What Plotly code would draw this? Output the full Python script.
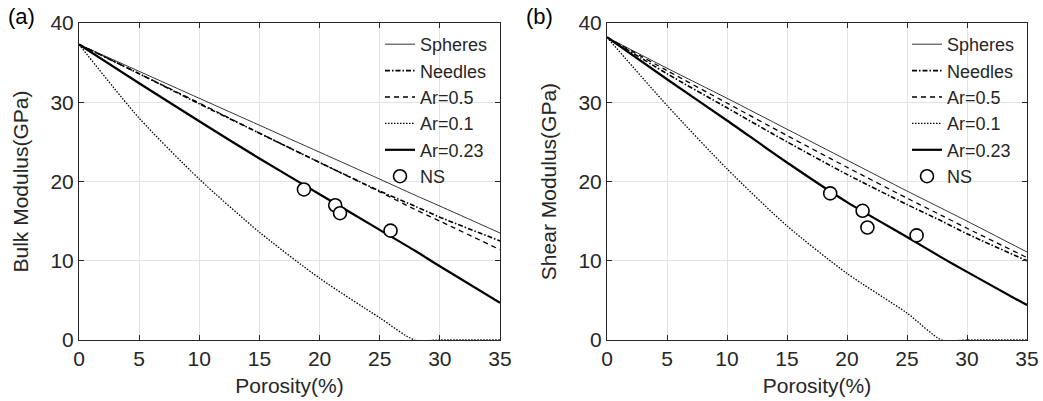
import plotly.graph_objects as go

# ---------------- data ----------------
porosity = [0, 5, 10, 15, 20, 25, 27.9, 30, 35]

# (a) Bulk modulus (GPa)
bulk_spheres = [37.3, 33.9, 30.5, 27.1, 23.7, 20.3, 18.3, 16.9, 13.5]
bulk_needles = [37.3, 33.6, 29.8, 26.1, 22.4, 18.8, 16.9, 15.5, 12.5]
bulk_ar05    = [37.3, 33.6, 29.9, 26.1, 22.4, 18.7, 16.5, 15.0, 11.4]
bulk_ar01    = [37.3, 28.0, 20.3, 13.6, 7.8, 2.8, 0.0, 0.0, 0.0]
bulk_ar023   = [37.3, 32.4, 27.6, 22.9, 18.4, 13.9, 11.3, 9.3, 4.7]
bulk_ns_phi  = [18.7, 21.3, 21.7, 25.9]
bulk_ns_val  = [19.0, 17.0, 16.0, 13.8]

# (b) Shear modulus (GPa)
shear_spheres = [38.2, 34.3, 30.5, 26.6, 22.7, 18.8, 16.6, 15.0, 11.1]
shear_needles = [38.2, 33.6, 29.3, 25.0, 20.9, 17.1, 15.0, 13.4, 10.0]
shear_ar05    = [38.2, 34.0, 29.9, 25.8, 21.8, 17.9, 15.7, 14.1, 10.4]
shear_ar01    = [38.2, 29.6, 21.6, 14.4, 8.4, 3.4, 0.0, 0.0, 0.0]
shear_ar023   = [38.2, 32.9, 27.7, 22.4, 17.4, 13.0, 10.4, 8.6, 4.4]
shear_ns_phi  = [18.6, 21.3, 21.7, 25.8]
shear_ns_val  = [18.5, 16.3, 14.2, 13.2]

x_ticks = [0, 5, 10, 15, 20, 25, 30, 35]
y_ticks = [0, 10, 20, 30, 40]

# ---------------- figure ----------------
FONT = "Liberation Sans, Arial, sans-serif"
INK = "#262626"
TS = 21
fig = go.Figure()

styles = [
    ("Spheres", dict(color="black", width=0.8, dash="solid")),
    ("Needles", dict(color="black", width=1.6, dash="5px,2px,1.5px,2px")),
    ("Ar=0.5", dict(color="black", width=1.3, dash="5px,4px")),
    ("Ar=0.1", dict(color="black", width=1.3, dash="1.5px,1.5px")),
    ("Ar=0.23", dict(color="black", width=2.2, dash="solid")),
]

panels = [
    ("x", "y", "legend", [bulk_spheres, bulk_needles, bulk_ar05, bulk_ar01, bulk_ar023],
     bulk_ns_phi, bulk_ns_val),
    ("x2", "y2", "legend2", [shear_spheres, shear_needles, shear_ar05, shear_ar01, shear_ar023],
     shear_ns_phi, shear_ns_val),
]

for xa, ya, lg, series, nsx, nsy in panels:
    for (name, ln), vals in zip(styles, series):
        l = dict(ln)
        l["shape"] = "spline"
        l["smoothing"] = 0.7
        fig.add_trace(go.Scatter(x=porosity, y=vals, mode="lines", name=name,
                                 line=l, xaxis=xa, yaxis=ya, legend=lg))
    fig.add_trace(go.Scatter(x=nsx, y=nsy, mode="markers", name="NS",
                             marker=dict(symbol="circle", size=13, color="white",
                                         line=dict(color="black", width=1.6)),
                             xaxis=xa, yaxis=ya, legend=lg))

W, H = 1043, 401
top, bottom = 23, 340
ydom = [1 - bottom / H, 1 - top / H]

axis_common = dict(
    showline=True, linecolor=INK, linewidth=1, mirror="ticks",
    ticks="inside", ticklen=5, tickcolor=INK, tickwidth=1,
    showgrid=True, gridcolor="#e3e3e3", gridwidth=1,
    zeroline=False, automargin=False,
    tickfont=dict(family=FONT, size=TS, color=INK),
)

leg_common = dict(y=1 - 26 / H, yanchor="top", xanchor="right",
                  bgcolor="rgba(0,0,0,0)", borderwidth=0,
                  font=dict(family=FONT, size=18, color=INK),
                  itemwidth=30, tracegroupgap=0)

fig.update_layout(
    width=W, height=H,
    margin=dict(l=0, r=0, t=0, b=0, autoexpand=False),
    paper_bgcolor="white", plot_bgcolor="white",
    font=dict(family=FONT, size=TS, color=INK),
    xaxis=dict(domain=[79 / W, 500 / W], range=[0, 35], tickvals=x_ticks,
               title=dict(text="Porosity(%)", standoff=9, font=dict(size=TS)),
               anchor="y", **axis_common),
    yaxis=dict(domain=ydom, range=[0, 40], tickvals=y_ticks,
               title=dict(text="Bulk Modulus(GPa)", standoff=16, font=dict(size=TS)),
               anchor="x", **axis_common),
    xaxis2=dict(domain=[607 / W, 1027 / W], range=[0, 35], tickvals=x_ticks,
                title=dict(text="Porosity(%)", standoff=9, font=dict(size=TS)),
                anchor="y2", **axis_common),
    yaxis2=dict(domain=ydom, range=[0, 40], tickvals=y_ticks,
                title=dict(text="Shear Modulus(GPa)", standoff=16, font=dict(size=TS)),
                anchor="x2", **axis_common),
    legend=dict(x=493 / W, **leg_common),
    legend2=dict(x=1020 / W, **leg_common),
    annotations=[
        dict(text="(a)", x=6 / W, y=1 - 2 / H, xref="paper", yref="paper",
             xanchor="left", yanchor="top", showarrow=False,
             font=dict(family=FONT, size=22, color="black")),
        dict(text="(b)", x=524 / W, y=1 - 2 / H, xref="paper", yref="paper",
             xanchor="left", yanchor="top", showarrow=False,
             font=dict(family=FONT, size=22, color="black")),
    ],
)

fig.write_html("out.html")
